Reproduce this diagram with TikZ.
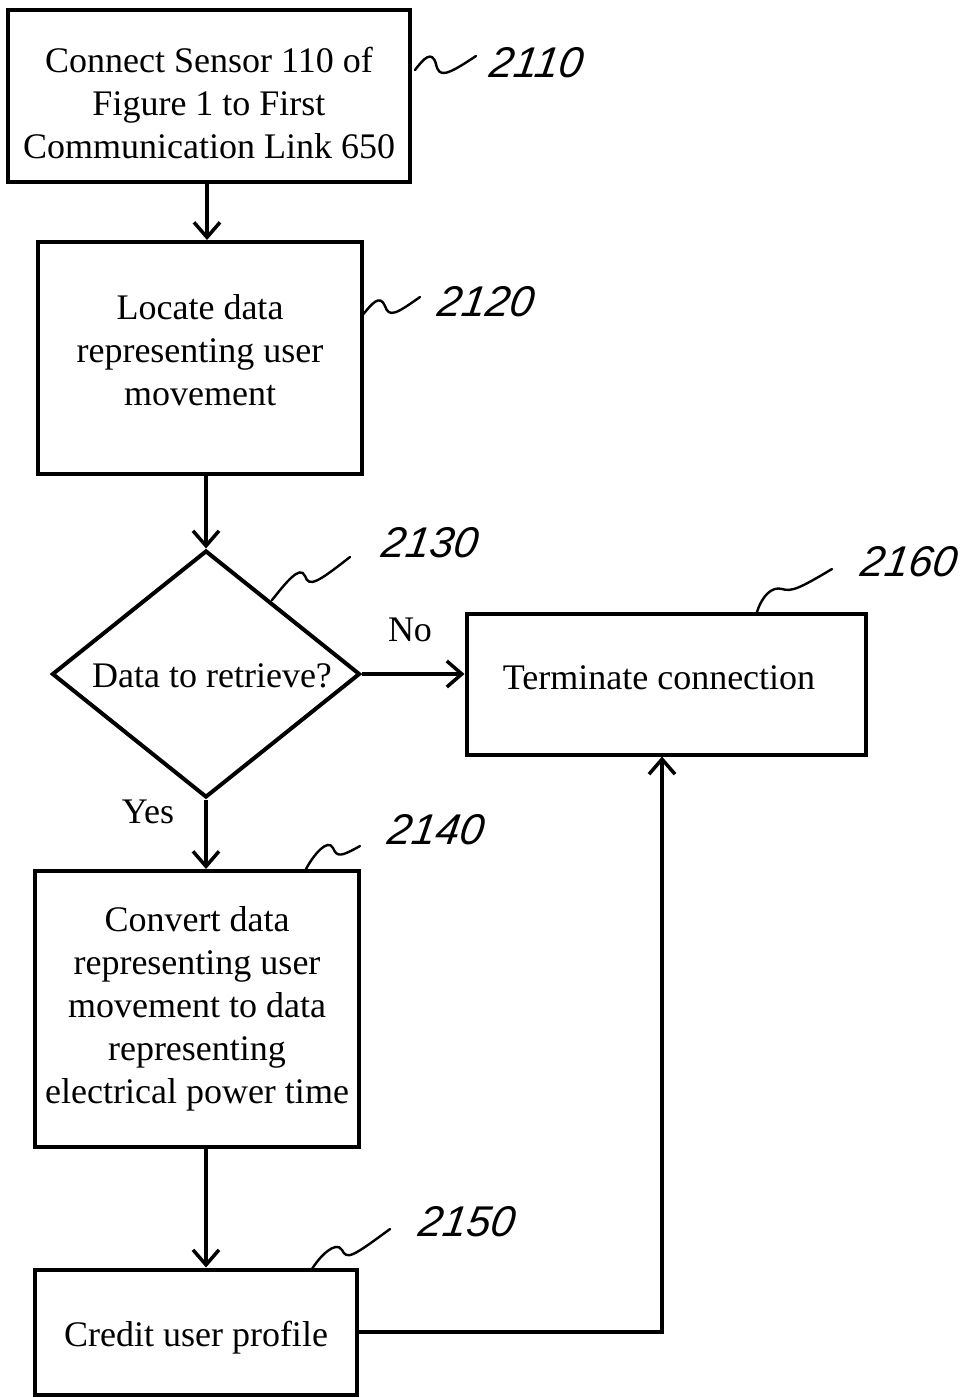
\documentclass[tikz,border=0pt]{standalone}
\usepackage{fontspec}
\setmainfont{Liberation Serif}
\newfontfamily\handfont{Liberation Sans}
\usetikzlibrary{shapes.geometric,arrows.meta}
\tikzset{
  box/.style={draw, line width=4pt, rectangle, inner sep=0pt},
  decision/.style={draw, line width=4pt, diamond, inner sep=0pt},
  flow/.style={line width=3.5pt, -{Straight Barb[length=15pt,width=26pt]}},
  refnum/.style={font=\handfont\itshape\fontsize{43}{43}\selectfont, inner sep=0pt, xslant=0.15},
  squiggle/.style={line width=2.4pt, line cap=round},
  word/.style={font=\fontsize{36}{43}\selectfont, inner sep=0pt, align=center}
}
\begin{document}
\begin{tikzpicture}[x=1pt,y=-1pt]
\useasboundingbox (0,0) rectangle (972,1398);

% process boxes and their texts
\node[box, minimum width=402pt, minimum height=172pt] (b1) at (209,96) {};
\node[word] (t1) at (209,103) {Connect Sensor 110 of\\Figure 1 to First\\Communication Link 650};
\node[box, minimum width=324pt, minimum height=232pt] (b2) at (200,358) {};
\node[word] (t2) at (200,350) {Locate data\\representing user\\movement};
\node[decision, minimum width=308pt, minimum height=247pt] (d) at (206,674) {};
\node[word] (dq) at (212,676) {Data to retrieve?};
\node[box, minimum width=399pt, minimum height=141pt] (b6) at (666,684) {};
\node[word] (t6) at (659,678) {Terminate connection};
\node[box, minimum width=324pt, minimum height=276pt] (b4) at (197,1009) {};
\node[word] (t4) at (197,1009) {Convert data\\representing user\\movement to data\\representing\\electrical power time};
\node[box, minimum width=322pt, minimum height=125pt] (b5) at (196,1332) {};
\node[word] (t5) at (196,1338) {Credit user profile};

% branch labels
\node[word] (no) at (410,630) {No};
\node[word] (yes) at (148,812) {Yes};

% connectors
\draw[flow] ([xshift=-2pt]b1.south) -- ([xshift=-2pt]b1.south |- b2.north);
\draw[flow] (d.north |- b2.south) -- (d.north);
\draw[flow] (d.east) -- (d.east -| b6.west);
\draw[flow] (d.south) -- (d.south |- b4.north);
\draw[flow] (d.south |- b4.south) -- (d.south |- b5.north);
\draw[flow] (b5.east) -| ([xshift=-4pt]b6.south);

% reference numerals with lead lines
\node[refnum] (r1) at (537,63) {2110};
\node[refnum] (r2) at (487,302) {2120};
\node[refnum] (r3) at (431,543) {2130};
\node[refnum] (r6) at (910,562) {2160};
\node[refnum] (r4) at (437,830) {2140};
\node[refnum] (r5) at (468,1222) {2150};

\draw[squiggle] (415,70) .. controls (424,58) and (432,50) .. (436,64)
  .. controls (439,78) and (446,76) .. (476,56);
\draw[squiggle] (362,316) .. controls (372,303) and (380,294) .. (385,306)
  .. controls (389,318) and (396,314) .. (420,297);
\draw[squiggle] (272,600) .. controls (285,584) and (300,564) .. (305,576)
  .. controls (309,588) and (318,582) .. (350,557);
\draw[squiggle] (757,612) .. controls (762,596) and (772,586) .. (782,589)
  .. controls (792,592) and (800,588) .. (832,569);
\draw[squiggle] (306,869) .. controls (314,854) and (328,838) .. (333,848)
  .. controls (337,858) and (342,856) .. (360,846);
\draw[squiggle] (312,1269) .. controls (320,1256) and (336,1240) .. (342,1250)
  .. controls (347,1260) and (352,1257) .. (390,1229);
\end{tikzpicture}
\end{document}
